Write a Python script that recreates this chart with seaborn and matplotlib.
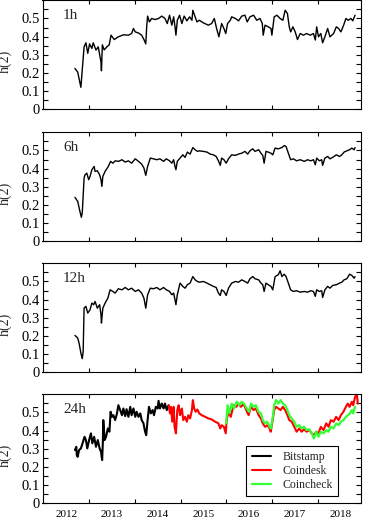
import numpy as np
import pandas as pd
import matplotlib
matplotlib.use("Agg")
import matplotlib.pyplot as plt
import seaborn as sns

# ---------------- data ----------------
h1_year = [2012.69, 2012.75, 2012.82, 2012.89, 2012.93, 2012.97, 2013.01, 2013.06, 2013.09, 2013.15,
           2013.20, 2013.26, 2013.27, 2013.29, 2013.33, 2013.39, 2013.44, 2013.48, 2013.55, 2013.64,
           2013.75, 2013.86, 2013.93, 2013.97, 2014.01, 2014.08, 2014.15, 2014.20, 2014.24, 2014.26,
           2014.28, 2014.32, 2014.37, 2014.44, 2014.52, 2014.59, 2014.66, 2014.71, 2014.76, 2014.81,
           2014.85, 2014.88, 2014.90, 2014.93, 2014.98, 2015.03, 2015.08, 2015.14, 2015.20, 2015.25,
           2015.27, 2015.32, 2015.36, 2015.41,
           2015.50, 2015.61, 2015.68, 2015.74, 2015.79, 2015.84, 2015.90, 2015.95, 2015.99, 2016.03,
           2016.09, 2016.12, 2016.20, 2016.27, 2016.34, 2016.41, 2016.46, 2016.52, 2016.60, 2016.67,
           2016.74, 2016.79, 2016.81, 2016.85, 2016.92, 2016.98, 2017.00, 2017.05, 2017.11, 2017.18,
           2017.24, 2017.29, 2017.34, 2017.38, 2017.41, 2017.46, 2017.51, 2017.56, 2017.62, 2017.69,
           2017.76, 2017.84, 2017.91, 2017.95, 2017.98, 2018.02, 2018.07, 2018.11, 2018.16, 2018.22,
           2018.27, 2018.35, 2018.41, 2018.46, 2018.51, 2018.57, 2018.62, 2018.67, 2018.73, 2018.77,
           2018.82]
h1_val = [0.225, 0.205, 0.121, 0.344, 0.366, 0.308, 0.360, 0.335, 0.366, 0.326,
          0.344, 0.260, 0.212, 0.355, 0.327, 0.344, 0.355, 0.408, 0.384, 0.399,
          0.410, 0.408, 0.417, 0.445, 0.426, 0.420, 0.408, 0.384, 0.360, 0.454,
          0.513, 0.481, 0.500, 0.494, 0.500, 0.513, 0.500, 0.472, 0.518, 0.463,
          0.509, 0.454, 0.408, 0.490, 0.518, 0.472, 0.513, 0.487, 0.509, 0.490,
          0.545, 0.509, 0.481, 0.490,
          0.476, 0.463, 0.472, 0.500, 0.445, 0.399, 0.472, 0.445, 0.417, 0.472,
          0.490, 0.509, 0.500, 0.487, 0.513, 0.518, 0.481, 0.509, 0.518, 0.490,
          0.500, 0.472, 0.408, 0.463, 0.454, 0.445, 0.408, 0.509, 0.518, 0.500,
          0.490, 0.545, 0.527, 0.454, 0.426, 0.454, 0.426, 0.384, 0.417, 0.408,
          0.417, 0.408, 0.417, 0.381, 0.454, 0.399, 0.417, 0.366, 0.399, 0.445,
          0.399, 0.417, 0.454, 0.445, 0.426, 0.463, 0.500, 0.490, 0.500, 0.487,
          0.518]

h6_year = [2012.69, 2012.75, 2012.79, 2012.83, 2012.85, 2012.89, 2012.91, 2012.95, 2012.99, 2013.02,
           2013.06, 2013.11, 2013.13, 2013.18, 2013.23, 2013.26, 2013.28, 2013.30, 2013.35, 2013.42,
           2013.47, 2013.52, 2013.57, 2013.64, 2013.72, 2013.79, 2013.86, 2013.93, 2014.01, 2014.08,
           2014.15, 2014.20, 2014.24, 2014.28, 2014.34, 2014.41, 2014.48, 2014.55, 2014.63, 2014.69,
           2014.76, 2014.81, 2014.85, 2014.88, 2014.90, 2014.93, 2014.99, 2015.05, 2015.10, 2015.15,
           2015.21, 2015.27, 2015.32, 2015.37, 2015.41,
           2015.50, 2015.58, 2015.65, 2015.72, 2015.78, 2015.83, 2015.87, 2015.90, 2015.95, 2016.00,
           2016.05, 2016.12, 2016.20, 2016.27, 2016.34, 2016.41, 2016.47, 2016.52, 2016.58, 2016.63,
           2016.71, 2016.76, 2016.80, 2016.83, 2016.87, 2016.92, 2016.98, 2017.02, 2017.07, 2017.14,
           2017.22, 2017.27, 2017.31, 2017.36, 2017.41, 2017.47, 2017.54, 2017.62, 2017.71, 2017.78,
           2017.85, 2017.91, 2017.95, 2017.98, 2018.04, 2018.09, 2018.11, 2018.16, 2018.22, 2018.27,
           2018.33, 2018.41, 2018.48, 2018.53, 2018.58, 2018.64, 2018.70, 2018.75, 2018.80, 2018.82]
h6_val = [0.242, 0.220, 0.174, 0.132, 0.156, 0.348, 0.366, 0.375, 0.339, 0.357,
          0.394, 0.412, 0.385, 0.388, 0.366, 0.339, 0.302, 0.357, 0.385, 0.412,
          0.440, 0.430, 0.443, 0.440, 0.449, 0.436, 0.443, 0.430, 0.454, 0.440,
          0.425, 0.403, 0.363, 0.412, 0.458, 0.454, 0.449, 0.454, 0.440, 0.454,
          0.443, 0.430, 0.449, 0.412, 0.394, 0.440, 0.458, 0.476, 0.462, 0.491,
          0.480, 0.516, 0.504, 0.495, 0.498,
          0.495, 0.491, 0.480, 0.476, 0.467, 0.443, 0.418, 0.458, 0.449, 0.430,
          0.454, 0.476, 0.473, 0.480, 0.485, 0.495, 0.480, 0.498, 0.509, 0.495,
          0.504, 0.485, 0.473, 0.430, 0.495, 0.491, 0.485, 0.476, 0.513, 0.509,
          0.516, 0.527, 0.522, 0.485, 0.449, 0.454, 0.443, 0.449, 0.440, 0.449,
          0.443, 0.449, 0.421, 0.458, 0.443, 0.449, 0.418, 0.458, 0.467, 0.454,
          0.462, 0.476, 0.467, 0.476, 0.491, 0.498, 0.504, 0.513, 0.504, 0.516]

h12_year = [2012.69, 2012.75, 2012.78, 2012.82, 2012.85, 2012.87, 2012.89, 2012.93, 2012.97, 2013.02,
            2013.06, 2013.10, 2013.13, 2013.18, 2013.23, 2013.26, 2013.27, 2013.30, 2013.35, 2013.41,
            2013.46, 2013.52, 2013.57, 2013.64, 2013.72, 2013.79, 2013.86, 2013.93, 2014.01, 2014.08,
            2014.15, 2014.20, 2014.24, 2014.28, 2014.34, 2014.41, 2014.48, 2014.55, 2014.63, 2014.69,
            2014.76, 2014.81, 2014.85, 2014.88, 2014.90, 2014.93, 2014.99, 2015.05, 2015.10, 2015.15,
            2015.21, 2015.27, 2015.32, 2015.37, 2015.41,
            2015.50, 2015.58, 2015.65, 2015.72, 2015.78, 2015.83, 2015.87, 2015.90, 2015.95, 2016.00,
            2016.05, 2016.12, 2016.20, 2016.27, 2016.34, 2016.41, 2016.47, 2016.52, 2016.58, 2016.63,
            2016.71, 2016.76, 2016.80, 2016.83, 2016.87, 2016.92, 2016.98, 2017.02, 2017.07, 2017.14,
            2017.18, 2017.22, 2017.27, 2017.31, 2017.36, 2017.41, 2017.47, 2017.54, 2017.62, 2017.71,
            2017.78, 2017.85, 2017.91, 2017.95, 2017.98, 2018.04, 2018.09, 2018.11, 2018.16, 2018.22,
            2018.27, 2018.33, 2018.41, 2018.48, 2018.53, 2018.58, 2018.64, 2018.70, 2018.75, 2018.80,
            2018.82]
h12_val = [0.203, 0.189, 0.161, 0.106, 0.075, 0.115, 0.353, 0.363, 0.326, 0.344,
           0.381, 0.372, 0.390, 0.353, 0.372, 0.317, 0.271, 0.353, 0.381, 0.408,
           0.454, 0.445, 0.436, 0.460, 0.454, 0.467, 0.454, 0.463, 0.445, 0.454,
           0.436, 0.408, 0.353, 0.427, 0.463, 0.460, 0.467, 0.454, 0.467, 0.454,
           0.445, 0.427, 0.436, 0.399, 0.372, 0.427, 0.491, 0.473, 0.463, 0.482,
           0.491, 0.527, 0.509, 0.500, 0.496,
           0.500, 0.491, 0.482, 0.473, 0.467, 0.436, 0.423, 0.454, 0.445, 0.423,
           0.463, 0.491, 0.500, 0.496, 0.509, 0.500, 0.491, 0.515, 0.527, 0.515,
           0.509, 0.491, 0.482, 0.445, 0.491, 0.482, 0.473, 0.454, 0.527, 0.537,
           0.559, 0.527, 0.540, 0.527, 0.491, 0.454, 0.445, 0.449, 0.441, 0.445,
           0.441, 0.449, 0.445, 0.418, 0.454, 0.445, 0.449, 0.412, 0.454, 0.473,
           0.463, 0.478, 0.482, 0.491, 0.496, 0.509, 0.515, 0.540, 0.533, 0.518,
           0.527]

bitstamp_year = [2012.69, 2012.72, 2012.73, 2012.75, 2012.78, 2012.82, 2012.86, 2012.90, 2012.93, 2012.96,
                 2013.00, 2013.04, 2013.07, 2013.11, 2013.15, 2013.19, 2013.23, 2013.26, 2013.285, 2013.30,
                 2013.31, 2013.34, 2013.37, 2013.41, 2013.445, 2013.47, 2013.50, 2013.53, 2013.57, 2013.61,
                 2013.64, 2013.68, 2013.72, 2013.75, 2013.79, 2013.82, 2013.86, 2013.90, 2013.93, 2013.97,
                 2014.01, 2014.04, 2014.08, 2014.12, 2014.15, 2014.19, 2014.225, 2014.25, 2014.28, 2014.31,
                 2014.35, 2014.39, 2014.42, 2014.46, 2014.50, 2014.52, 2014.55, 2014.59, 2014.63, 2014.66,
                 2014.70, 2014.74]
bitstamp_val = [0.293, 0.311, 0.266, 0.256, 0.293, 0.302, 0.333, 0.366, 0.348, 0.302,
                0.348, 0.385, 0.330, 0.366, 0.311, 0.348, 0.302, 0.284, 0.238, 0.330,
                0.458, 0.348, 0.366, 0.412, 0.394, 0.504, 0.476, 0.485, 0.458, 0.495,
                0.540, 0.513, 0.485, 0.522, 0.480, 0.518, 0.476, 0.531, 0.485, 0.522,
                0.476, 0.504, 0.476, 0.495, 0.458, 0.440, 0.394, 0.375, 0.458, 0.531,
                0.495, 0.513, 0.485, 0.531, 0.522, 0.564, 0.522, 0.549, 0.522, 0.549,
                0.513, 0.540]

coindesk_year = [2014.74, 2014.77, 2014.79, 2014.82, 2014.85, 2014.87, 2014.90, 2014.93, 2014.96, 2014.99,
                 2015.03, 2015.06, 2015.10, 2015.14, 2015.17, 2015.21, 2015.25, 2015.27, 2015.30, 2015.33,
                 2015.37, 2015.41, 2015.465, 2015.54, 2015.61, 2015.68, 2015.76, 2015.83, 2015.87, 2015.90,
                 2015.95, 2015.99, 2016.01, 2016.05, 2016.10, 2016.16, 2016.22, 2016.27, 2016.32, 2016.38,
                 2016.44, 2016.49, 2016.54, 2016.60, 2016.65, 2016.71, 2016.76, 2016.80, 2016.85, 2016.90,
                 2016.95, 2016.975, 2017.005, 2017.05, 2017.09, 2017.14, 2017.19, 2017.24, 2017.29, 2017.34,
                 2017.38, 2017.435, 2017.49, 2017.54, 2017.60, 2017.65, 2017.705, 2017.76, 2017.82, 2017.87,
                 2017.92, 2017.97, 2018.02, 2018.07, 2018.13, 2018.19, 2018.24, 2018.29, 2018.35, 2018.405,
                 2018.46, 2018.51, 2018.565, 2018.62, 2018.66, 2018.70, 2018.75, 2018.78, 2018.82, 2018.86,
                 2018.88]
coindesk_val = [0.540, 0.495, 0.531, 0.449, 0.531, 0.421, 0.385, 0.513, 0.540, 0.485,
                0.522, 0.458, 0.476, 0.449, 0.485, 0.467, 0.513, 0.568, 0.522, 0.504,
                0.516, 0.495, 0.485, 0.476, 0.467, 0.462, 0.449, 0.440, 0.412, 0.430,
                0.421, 0.385, 0.458, 0.504, 0.476, 0.540, 0.531, 0.549, 0.531, 0.546,
                0.513, 0.485, 0.531, 0.513, 0.522, 0.485, 0.467, 0.440, 0.421, 0.430,
                0.412, 0.394, 0.440, 0.513, 0.531, 0.522, 0.513, 0.531, 0.513, 0.485,
                0.458, 0.449, 0.421, 0.394, 0.412, 0.394, 0.407, 0.394, 0.403, 0.385,
                0.375, 0.394, 0.385, 0.421, 0.403, 0.440, 0.421, 0.458, 0.449, 0.476,
                0.458, 0.485, 0.504, 0.531, 0.549, 0.531, 0.559, 0.540, 0.586, 0.598,
                0.549]

coincheck_year = [2016.00, 2016.03, 2016.07, 2016.12, 2016.17, 2016.23, 2016.29, 2016.34, 2016.39, 2016.45,
                  2016.50, 2016.545, 2016.60, 2016.65, 2016.705, 2016.76, 2016.80, 2016.85, 2016.90, 2016.95,
                  2016.98, 2017.02, 2017.05, 2017.09, 2017.14, 2017.19, 2017.24, 2017.29, 2017.34, 2017.38,
                  2017.435, 2017.49, 2017.54, 2017.60, 2017.65, 2017.705, 2017.76, 2017.82, 2017.87, 2017.92,
                  2017.97, 2018.02, 2018.07, 2018.13, 2018.19, 2018.24, 2018.29, 2018.35, 2018.405, 2018.46,
                  2018.51, 2018.565, 2018.62, 2018.66, 2018.71, 2018.75, 2018.78, 2018.82]
coincheck_val = [0.440, 0.540, 0.495, 0.549, 0.522, 0.559, 0.540, 0.559, 0.549, 0.522,
                 0.504, 0.549, 0.531, 0.540, 0.504, 0.495, 0.458, 0.440, 0.449, 0.421,
                 0.412, 0.476, 0.540, 0.568, 0.549, 0.568, 0.549, 0.540, 0.513, 0.485,
                 0.467, 0.449, 0.421, 0.430, 0.412, 0.421, 0.403, 0.407, 0.385, 0.357,
                 0.394, 0.366, 0.394, 0.385, 0.403, 0.394, 0.421, 0.412, 0.440, 0.430,
                 0.449, 0.458, 0.476, 0.485, 0.495, 0.513, 0.495, 0.531]

panel_labels = ["1h", "6h", "12h", "24h"]
year_labels = ["2012", "2013", "2014", "2015", "2016", "2017", "2018"]
year_label_pos = [2012.5, 2013.5, 2014.5, 2015.5, 2016.5, 2017.5, 2018.5]
year_ticks = [2013, 2014, 2015, 2016, 2017, 2018]
y_ticks = [0.0, 0.1, 0.2, 0.3, 0.4, 0.5]
y_tick_labels = ["0", "0.1", "0.2", "0.3", "0.4", "0.5"]
y_minor = [0.05, 0.15, 0.25, 0.35, 0.45, 0.55]

# ---------------- style ----------------
sns.set_style("ticks")
plt.rcParams["font.family"] = ["Liberation Serif", "DejaVu Serif"]
plt.rcParams["axes.linewidth"] = 0.8

fig = plt.figure(figsize=(3.65, 5.18), dpi=100)
W, H = 365.0, 518.0
left = 42.5 / W
width = (361.0 - 42.5) / W
height = 109.0 / H
bottoms_px = [109.3, 241.3, 372.3, 503.3]

axes = []
for b in bottoms_px:
    axes.append(fig.add_axes([left, 1 - b / H, width, height]))

single = [(h1_year, h1_val), (h6_year, h6_val), (h12_year, h12_val)]
for ax, (xs, ys) in zip(axes[:3], single):
    df = pd.DataFrame({"year": xs, "h2": ys})
    sns.lineplot(data=df, x="year", y="h2", ax=ax, color="black", lw=1.0,
                 estimator=None, sort=False)

ax4 = axes[3]
sns.lineplot(x=bitstamp_year, y=bitstamp_val, ax=ax4, color="black", lw=1.5,
             estimator=None, sort=False, label="Bitstamp")
sns.lineplot(x=coindesk_year, y=coindesk_val, ax=ax4, color="#ff0000", lw=1.5,
             estimator=None, sort=False, label="Coindesk")
sns.lineplot(x=coincheck_year, y=coincheck_val, ax=ax4, color="#33ff33", lw=1.6,
             estimator=None, sort=False, label="Coincheck")

for i, ax in enumerate(axes):
    ax.set_xlim(2011.98, 2018.95)
    ax.set_ylim(0, 0.6)
    ax.set_yticks(y_ticks)
    ax.set_yticklabels(y_tick_labels)
    ax.set_yticks(y_minor, minor=True)
    ax.set_xticks(year_ticks)
    ax.set_xticklabels([])
    ax.tick_params(axis="both", which="both", direction="in", top=True, right=True,
                   width=0.8, colors="black")
    ax.tick_params(axis="y", which="both", length=3.5, pad=2, labelsize=10.5)
    ax.tick_params(axis="x", which="major", length=3)
    ax.set_xlabel("")
    ax.set_ylabel("h(2)", fontsize=10)
    ax.yaxis.set_label_coords(-0.095, 0.44)
    for s in ax.spines.values():
        s.set_color("black")
        s.set_linewidth(0.8)
    ax.text(0.064, 0.825, panel_labels[i], transform=ax.transAxes,
            fontsize=11, ha="left", va="baseline")

ax4.set_xticks(year_label_pos, minor=True)
ax4.set_xticklabels(year_labels, minor=True)
ax4.tick_params(axis="x", which="minor", length=0, pad=4.5, labelsize=8)

leg = ax4.legend(loc="lower right", bbox_to_anchor=(0.928, 0.067), fontsize=8.5,
                 frameon=True, fancybox=False, framealpha=1, edgecolor="black",
                 handlelength=1.6, labelspacing=0.15, borderpad=0.45, handletextpad=1.0,
                 borderaxespad=0)
leg.get_frame().set_linewidth(0.8)

fig.savefig("out.png", dpi=100)
